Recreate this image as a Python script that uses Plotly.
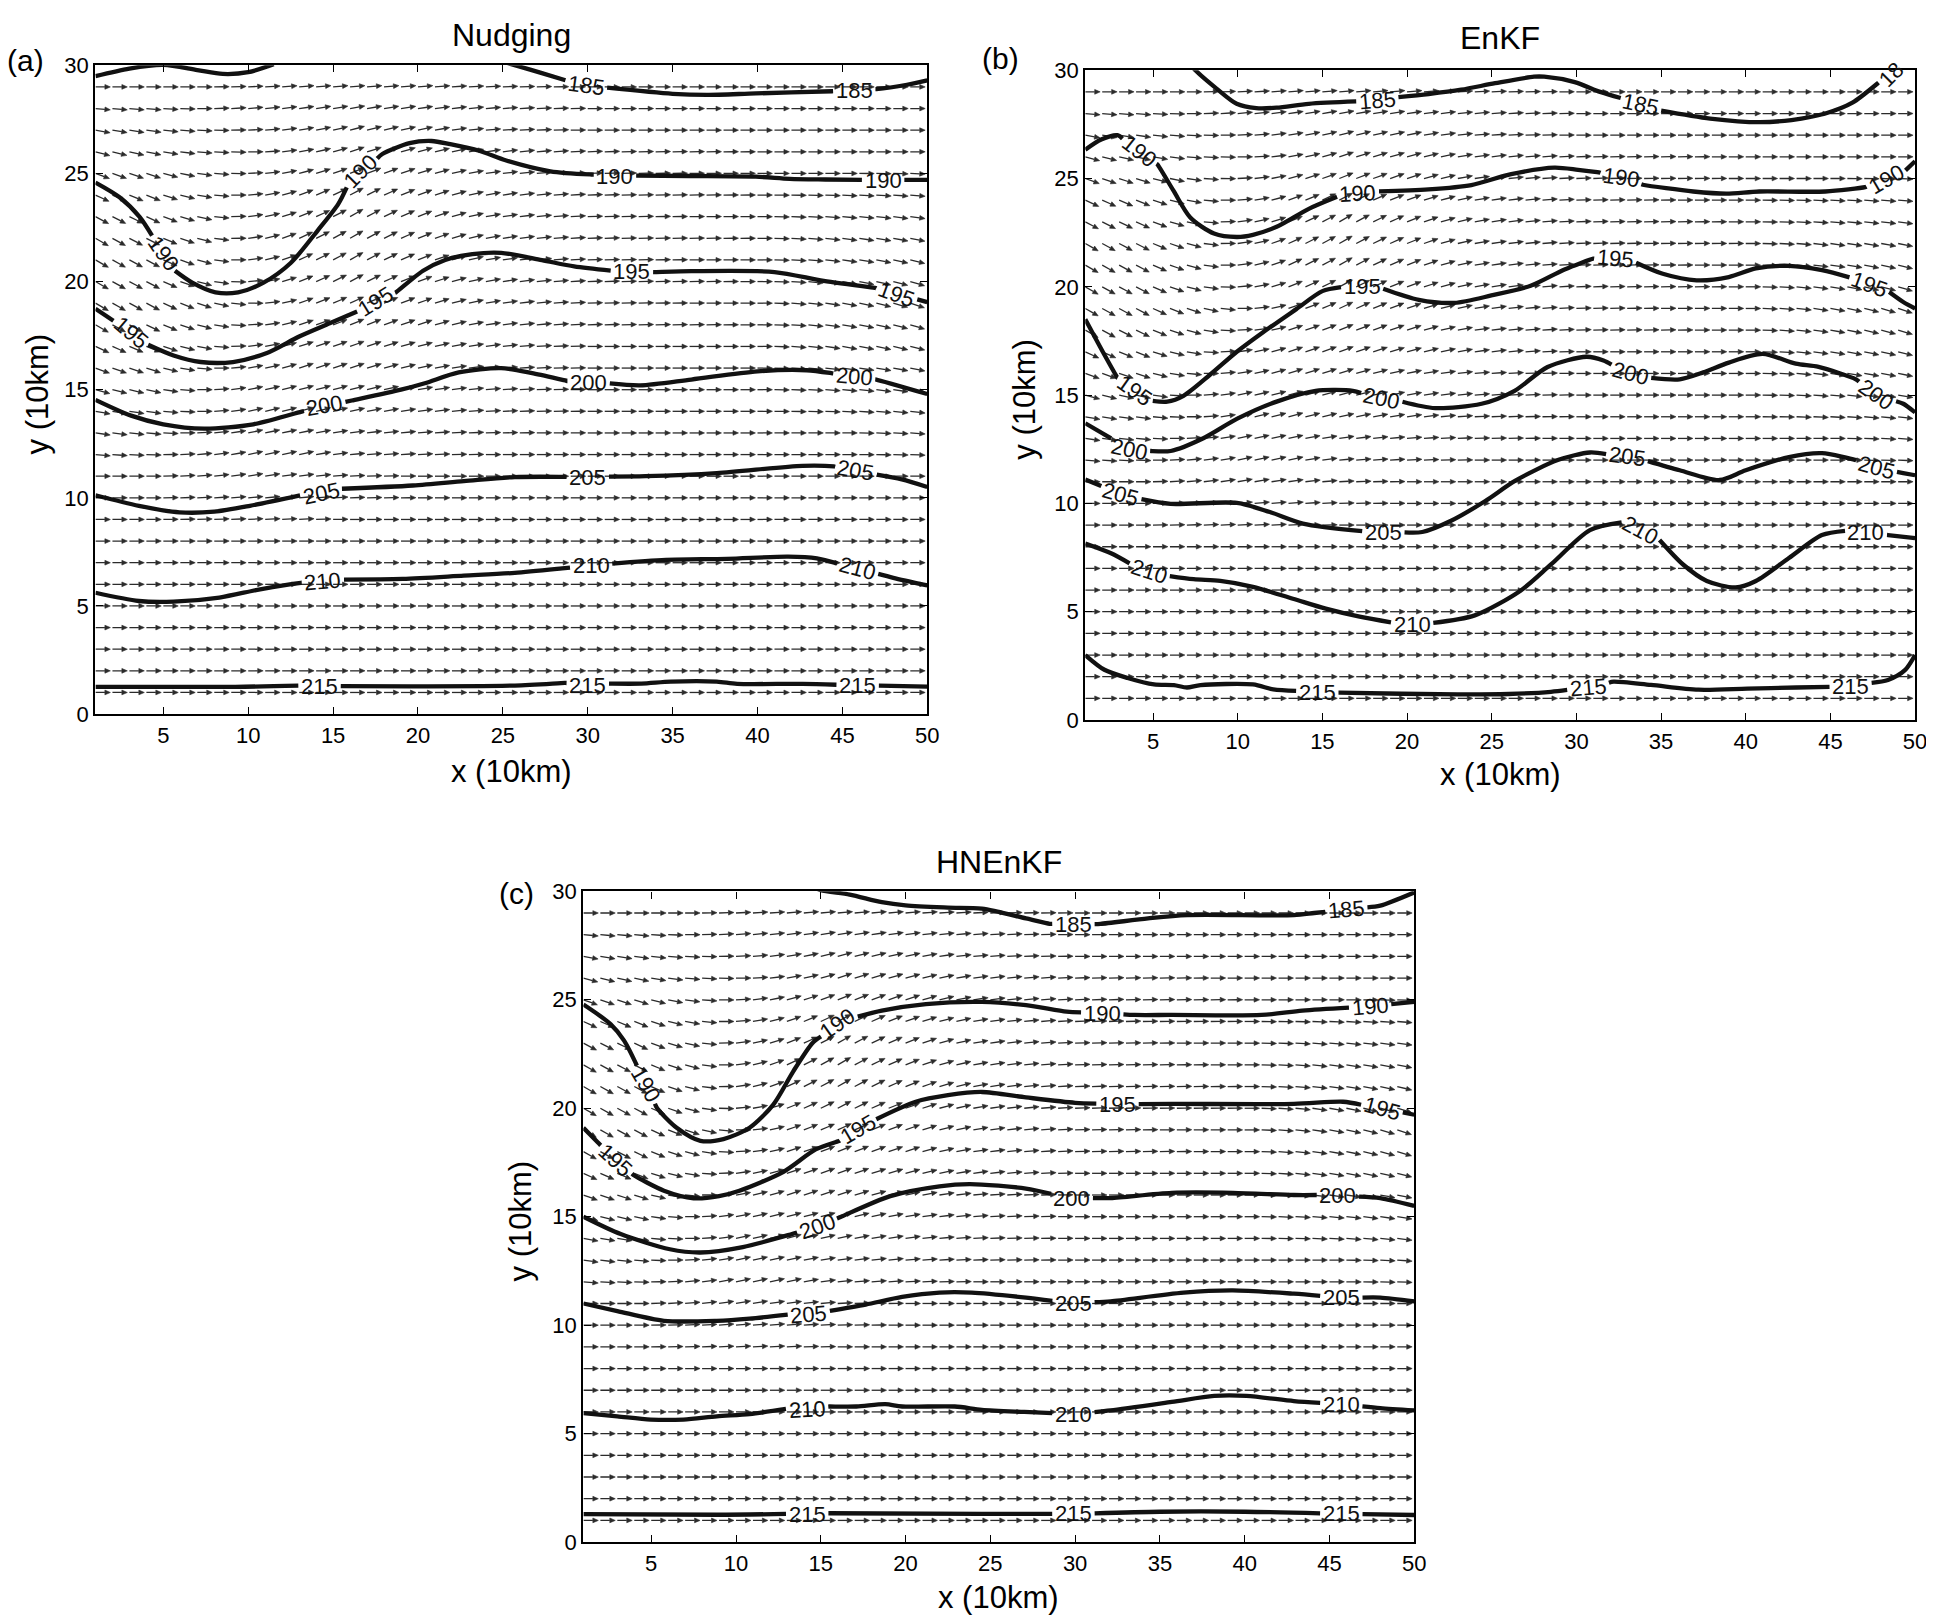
import numpy as np
import plotly.graph_objects as go

W, H = 1934, 1617
FONT = "Liberation Sans"

# ---------------- data: contour lines (grid units), None separates pieces ----------------
# (a) Nudging
A185_X = [1, 3, 5, 7, 8.5, 10, 11.5, None, 25.3, 25.9, 27.2, 28.8, 30.9, 35.0, 37.0, 39.9, 44.4, 47.0, 48.8, 50]
A185_Y = [29.5, 29.85, 30.02, 29.78, 29.6, 29.68, 30.05, None, 30.1, 29.96, 29.66, 29.28, 28.98, 28.68, 28.63, 28.7, 28.8, 28.9, 29.1, 29.3]
A190_X = [1, 2.42, 3.6, 4.37, 5.55, 6.7, 8.07, 9.4, 10.9, 12.5, 14.1, 15.3, 15.9, 17.9, 19.5, 20.8, 21.9, 23.6, 25.2, 27.8, 30.2, 32.7, 36.0, 39.9, 41.9, 44.0, 46.4, 48.6, 50]
A190_Y = [24.58, 23.9, 22.99, 22.08, 20.57, 19.95, 19.5, 19.5, 19.95, 20.86, 22.37, 23.58, 24.5, 25.9, 26.4, 26.5, 26.35, 26.05, 25.6, 25.1, 24.95, 24.9, 24.88, 24.85, 24.75, 24.72, 24.7, 24.7, 24.7]
A195_X = [1, 2.3, 4.0, 5.6, 7.2, 9.1, 11.1, 13.0, 14.8, 16.6, 18.7, 20.3, 21.6, 23.2, 24.9, 27.3, 29.2, 31.6, 33.9, 36.1, 41.0, 43.9, 47.0, 50]
A195_Y = [18.74, 18.06, 17.11, 16.58, 16.28, 16.28, 16.7, 17.46, 18.07, 18.68, 19.5, 20.5, 21.0, 21.27, 21.33, 20.99, 20.7, 20.48, 20.44, 20.48, 20.44, 20.03, 19.7, 19.05]
A200_X = [1, 3.1, 5.0, 7.4, 10.3, 13.2, 16.1, 19.0, 20.4, 22.4, 24.9, 26.8, 28.8, 31.1, 33.1, 36.1, 40.0, 42.9, 44.4, 47.0, 50]
A200_Y = [14.53, 13.8, 13.4, 13.2, 13.4, 14.0, 14.5, 15.0, 15.3, 15.8, 16.0, 15.75, 15.4, 15.3, 15.2, 15.47, 15.85, 15.9, 15.76, 15.47, 14.8]
A205_X = [1, 3.56, 5.95, 8.0, 10.1, 13.1, 15.5, 19.7, 22.7, 25.7, 28.65, 31.3, 33.4, 37.6, 42.65, 44.5, 46.5, 48.5, 50]
A205_Y = [10.12, 9.63, 9.33, 9.36, 9.63, 10.12, 10.42, 10.57, 10.77, 10.96, 10.97, 10.98, 11.0, 11.14, 11.48, 11.45, 11.15, 10.85, 10.5]
A210_X = [1, 3.56, 5.6, 8.3, 10.7, 13.1, 15.5, 19.1, 22.7, 25.7, 28.65, 31.3, 34.6, 38.2, 41.8, 43.5, 45.8, 48.0, 50]
A210_Y = [5.61, 5.23, 5.2, 5.39, 5.77, 6.07, 6.22, 6.25, 6.4, 6.53, 6.75, 6.95, 7.13, 7.18, 7.28, 7.2, 6.75, 6.3, 5.95]
A215_X = [1, 9.24, 12.97, 15.5, 25.7, 28.65, 31.3, 33.15, 34.9, 37.6, 38.8, 42.65, 46.0, 50]
A215_Y = [1.26, 1.26, 1.32, 1.29, 1.32, 1.44, 1.41, 1.41, 1.5, 1.5, 1.4, 1.4, 1.33, 1.27]
A_LBL_X = [29.9, 45.7, 5.0, 16.6, 31.6, 47.4, 3.1, 17.5, 32.6, 48.2, 14.5, 30.05, 45.7, 14.3, 30.0, 45.8, 14.4, 30.2, 45.9, 14.2, 30.0, 45.9]
A_LBL_Y = [29.08, 28.85, 21.3, 25.1, 24.85, 24.68, 17.65, 19.1, 20.45, 19.42, 14.25, 15.33, 15.62, 10.2, 10.95, 11.25, 6.12, 6.85, 6.72, 1.28, 1.3, 1.33]
A_LBL_ANG = [8, 0, 55, -45, 0, 0, 40, -32, 0, 20, -10, 0, 5, -12, 0, 10, -5, 0, 15, 0, 0, 0]
A_LBL_TXT = ["185", "185", "190", "190", "190", "190", "195", "195", "195", "195", "200", "200", "200",
             "205", "205", "205", "210", "210", "210", "215", "215", "215"]

# (b) EnKF
B185_X = [7.1, 7.5, 8.77, 9.94, 11.1, 12.3, 14.2, 17.0, 19.3, 21.27, 23.2, 25.2, 27.5, 28.1, 29.9, 31.4, 32.7, 34.9, 37.9, 40.8, 42.7, 44.7, 46.3, 47.8, 48.9]
B185_Y = [30.35, 30.0, 29.14, 28.45, 28.25, 28.27, 28.45, 28.56, 28.74, 28.9, 29.1, 29.4, 29.7, 29.7, 29.45, 29.0, 28.7, 28.15, 27.77, 27.6, 27.7, 28.0, 28.5, 29.4, 30.1]
B190_X = [1, 1.94, 2.9, 4.2, 5.26, 6.2, 7.2, 8.6, 9.95, 10.9, 12.3, 14.2, 16.0, 18.15, 21.27, 23.8, 26.15, 28.7, 30.1, 31.4, 34.0, 36.9, 38.85, 40.8, 44.7, 47.05, 49.4, 50]
B190_Y = [26.33, 26.8, 27.0, 26.3, 25.65, 24.45, 23.2, 22.46, 22.3, 22.4, 22.77, 23.6, 24.2, 24.4, 24.5, 24.7, 25.2, 25.5, 25.4, 25.27, 24.7, 24.4, 24.3, 24.4, 24.4, 24.6, 25.35, 25.8]
B195_X = [1, 2.13, 2.9, 3.9, 4.87, 5.84, 6.8, 8.38, 9.95, 11.5, 13.46, 15.0, 16.2, 17.3, 18.44, 20.7, 22.8, 24.98, 27.3, 29.3, 31.0, 32.3, 33.4, 35.1, 37.1, 39.0, 40.6, 42.55, 44.5, 46.3, 47.3, 48.4, 49.3, 50]
B195_Y = [18.5, 16.86, 15.8, 15.2, 14.74, 14.7, 14.97, 15.95, 17.0, 17.9, 18.97, 19.8, 20.0, 20.0, 19.95, 19.4, 19.26, 19.6, 20.05, 20.8, 21.3, 21.3, 21.15, 20.6, 20.3, 20.45, 20.85, 20.97, 20.77, 20.4, 20.1, 19.8, 19.3, 19.0]
B200_X = [1, 2.7, 3.6, 4.87, 6.04, 8.0, 9.95, 12.3, 14.6, 16.8, 18.5, 19.7, 21.66, 24.4, 26.35, 28.3, 30.6, 31.6, 33.2, 34.35, 36.1, 37.5, 39.0, 41.0, 42.95, 44.3, 46.5, 47.7, 49.3, 50]
B200_Y = [13.7, 12.92, 12.47, 12.42, 12.42, 13.02, 13.9, 14.7, 15.2, 15.2, 14.82, 14.7, 14.4, 14.6, 15.2, 16.3, 16.77, 16.6, 15.95, 15.8, 15.73, 16.05, 16.5, 16.9, 16.45, 16.3, 15.73, 15.05, 14.6, 14.2]
B205_X = [1, 1.94, 3.1, 4.28, 6.04, 9.95, 11.9, 13.85, 17.56, 18.6, 20.9, 22.6, 24.6, 26.4, 28.9, 30.8, 33.0, 34.1, 36.1, 38.45, 40.0, 42.55, 44.5, 46.5, 47.7, 49.3, 50]
B205_Y = [11.1, 10.8, 10.42, 10.2, 9.98, 10.02, 9.6, 9.07, 8.7, 8.64, 8.68, 9.2, 10.1, 11.05, 12.0, 12.35, 12.17, 11.98, 11.53, 11.08, 11.53, 12.14, 12.32, 12.0, 11.64, 11.4, 11.3]
B210_X = [1, 2.52, 3.7, 4.77, 5.94, 7.4, 8.97, 10.9, 13.26, 15.2, 17.2, 19.1, 20.3, 21.5, 24.0, 26.7, 28.5, 30.8, 32.8, 33.8, 34.9, 36.3, 37.7, 39.4, 40.6, 42.55, 44.5, 46.1, 47.1, 48.4, 50]
B210_Y = [8.15, 7.7, 7.2, 6.86, 6.65, 6.5, 6.42, 6.15, 5.6, 5.14, 4.77, 4.5, 4.42, 4.48, 4.83, 5.97, 7.18, 8.77, 9.15, 8.76, 8.32, 7.18, 6.42, 6.12, 6.42, 7.48, 8.54, 8.77, 8.62, 8.54, 8.4]
B215_X = [1, 2.13, 3.5, 5.06, 6.23, 7.0, 7.8, 10.9, 12.1, 13.65, 14.7, 16.0, 23.0, 26.0, 28.5, 30.7, 32.2, 34.4, 37.2, 40.1, 43.0, 46.2, 48.4, 49.4, 50]
B215_Y = [3.0, 2.32, 1.94, 1.64, 1.61, 1.5, 1.61, 1.64, 1.41, 1.33, 1.28, 1.26, 1.18, 1.2, 1.3, 1.5, 1.77, 1.62, 1.4, 1.45, 1.5, 1.55, 1.85, 2.3, 3.0]
B_LBL_X = [18.25, 33.8, 48.6, 4.2, 17.1, 32.65, 48.3, 3.9, 17.35, 32.3, 47.3, 3.6, 18.5, 33.2, 47.7, 3.1, 18.6, 33.0, 47.7, 4.77, 20.3, 33.8, 47.1, 14.7, 30.7, 46.2]
B_LBL_Y = [28.62, 28.4, 29.8, 26.26, 24.3, 25.05, 24.97, 15.2, 20.0, 21.3, 20.1, 12.5, 14.85, 15.98, 15.05, 10.42, 8.64, 12.17, 11.64, 6.86, 4.42, 8.76, 8.65, 1.28, 1.5, 1.55]
B_LBL_ANG = [-5, 12, -45, 38, -3, 8, -30, 35, 0, 5, 20, 12, 12, 15, 35, 15, 0, 8, 15, 18, 0, 28, 0, 0, -5, 0]
B_LBL_TXT = ["185", "185", "18", "190", "190", "190", "190", "195", "195", "195", "195", "200", "200", "200", "200",
             "205", "205", "205", "205", "210", "210", "210", "210", "215", "215", "215"]

# (c) HNEnKF
C185_X = [14.6, 15.0, 16.7, 18.6, 20.0, 22.5, 24.5, 27.1, 28.5, 29.9, 31.5, 34.3, 36.6, 42.9, 44.1, 46.0, 48.0, 50]
C185_Y = [30.2, 30.05, 29.85, 29.5, 29.35, 29.25, 29.2, 28.75, 28.5, 28.46, 28.5, 28.75, 28.9, 28.9, 29.0, 29.14, 29.34, 29.95]
C190_X = [1, 2.6, 3.4, 4.2, 4.67, 5.35, 6.5, 7.9, 9.26, 10.8, 12.2, 13.36, 14.5, 16.0, 17.07, 18.6, 21.2, 24.5, 27.1, 29.5, 31.6, 33.5, 35.7, 41.0, 43.4, 47.4, 50]
C190_Y = [24.78, 23.88, 23.12, 21.9, 21.08, 20.0, 19.1, 18.5, 18.58, 19.1, 20.17, 21.68, 23.0, 23.9, 24.2, 24.5, 24.8, 24.9, 24.75, 24.45, 24.38, 24.3, 24.3, 24.3, 24.5, 24.7, 24.9]
C195_X = [1, 1.84, 2.9, 4.0, 5.75, 7.5, 9.0, 10.2, 12.8, 14.7, 16.1, 17.2, 18.0, 20.6, 22.5, 24.5, 27.1, 30.0, 32.5, 35.7, 42.9, 45.8, 48.1, 50]
C195_Y = [19.1, 18.43, 17.6, 16.9, 16.2, 15.85, 15.95, 16.2, 17.07, 18.1, 18.5, 19.0, 19.4, 20.3, 20.6, 20.75, 20.5, 20.25, 20.18, 20.2, 20.2, 20.3, 20.0, 19.7]
C200_X = [1, 3.2, 6.1, 7.9, 10.4, 13.3, 14.8, 16.2, 19.1, 22.0, 23.8, 27.1, 29.8, 32.1, 35.7, 39.3, 42.9, 45.5, 48.0, 50]
C200_Y = [15.0, 14.2, 13.5, 13.35, 13.6, 14.2, 14.55, 15.0, 15.95, 16.4, 16.5, 16.3, 15.86, 15.86, 16.1, 16.1, 16.0, 16.0, 15.86, 15.5]
C205_X = [1, 3.0, 5.75, 8.87, 10.8, 13.2, 14.3, 15.5, 17.65, 19.8, 22.0, 23.9, 27.1, 29.9, 32.1, 36.4, 39.3, 42.9, 45.7, 48.0, 50]
C205_Y = [11.0, 10.65, 10.2, 10.2, 10.3, 10.5, 10.5, 10.65, 10.95, 11.3, 11.5, 11.5, 11.27, 11.0, 11.1, 11.5, 11.6, 11.45, 11.27, 11.27, 11.1]
C210_X = [1, 3.0, 4.97, 6.9, 8.87, 10.8, 13.07, 15.5, 17.1, 18.8, 19.8, 22.9, 24.5, 27.0, 29.9, 32.1, 35.7, 38.2, 40.1, 42.9, 45.7, 48.0, 50]
C210_Y = [5.95, 5.8, 5.65, 5.65, 5.8, 5.9, 6.15, 6.25, 6.25, 6.36, 6.25, 6.25, 6.1, 6.0, 5.9, 6.07, 6.46, 6.74, 6.74, 6.5, 6.35, 6.18, 6.07]
C215_X = [1, 8.87, 13.0, 15.3, 24.5, 29.9, 35.0, 40.0, 45.7, 50]
C215_Y = [1.29, 1.26, 1.3, 1.33, 1.3, 1.3, 1.4, 1.4, 1.3, 1.25]
C_LBL_X = [29.9, 46.0, 4.67, 16.0, 31.6, 47.4, 2.9, 17.2, 32.5, 48.1, 14.8, 29.8, 45.5, 14.3, 29.9, 45.7, 14.2, 29.9, 45.7, 14.2, 29.9, 45.7]
C_LBL_Y = [28.46, 29.14, 21.08, 23.9, 24.38, 24.7, 17.6, 19.0, 20.18, 20.0, 14.55, 15.86, 16.0, 10.5, 11.0, 11.27, 6.1, 5.9, 6.35, 1.28, 1.3, 1.3]
C_LBL_ANG = [0, -5, 60, -35, 0, -5, 42, -30, 0, 15, -20, 0, 0, -5, 0, 0, -3, 0, 0, 0, 0, 0]
C_LBL_TXT = ["185", "185", "190", "190", "190", "190", "195", "195", "195", "195", "200", "200", "200",
             "205", "205", "205", "210", "210", "210", "215", "215", "215"]

# ---------------- data: wind direction (screen angle, degrees, + = pointing up-right) ----------------
WIND_X = [1, 4, 7, 10, 13, 16, 20, 24, 30, 40, 45, 50]
WIND_Y = list(range(1, 30))
WIND_ANG = [
    [0] * 12, [0] * 12, [0] * 12, [0] * 12, [0] * 12, [0] * 12, [0] * 12, [0] * 12,     # y = 1..8
    [0, 0, 2, 3, 3, 0, 0, 0, 0, 0, 0, 0],              # 9
    [0, 0, 3, 5, 5, 2, 0, 0, 0, 0, 0, 0],              # 10
    [0, 0, 5, 10, 8, 3, 0, 0, 0, 0, 0, 0],             # 11
    [-5, -2, 5, 12, 12, 5, 3, 0, 0, 0, 0, -3],         # 12
    [-8, -5, 3, 12, 12, 8, 5, 2, 0, 0, 0, -5],         # 13
    [-10, -8, 0, 12, 15, 12, 8, 3, 0, 0, -3, -8],      # 14
    [-15, -12, 0, 12, 15, 15, 10, 5, 0, 0, -5, -10],   # 15
    [-20, -18, -5, 10, 18, 18, 12, 5, 0, 0, -8, -12],  # 16
    [-25, -22, -10, 8, 18, 20, 15, 8, 0, 0, -10, -15], # 17
    [-30, -26, -15, 3, 18, 22, 18, 8, 2, 0, -10, -18], # 18
    [-30, -28, -18, 0, 20, 25, 20, 10, 2, 0, -10, -20],# 19
    [-30, -28, -15, 5, 22, 28, 20, 10, 2, 0, -10, -18],# 20
    [-30, -28, -15, 8, 25, 30, 22, 10, 2, 0, -8, -15], # 21
    [-30, -27, -15, 8, 25, 30, 22, 10, 2, 0, -8, -12], # 22
    [-28, -25, -12, 8, 22, 30, 22, 10, 2, 0, -5, -8],  # 23
    [-25, -22, -10, 5, 20, 28, 20, 10, 2, 0, -3, -5],  # 24
    [-20, -18, -8, 3, 15, 22, 18, 8, 2, 0, 0, -3],     # 25
    [-15, -12, -5, 0, 10, 18, 15, 8, 2, 0, 0, 0],      # 26
    [-10, -8, -3, 3, 10, 15, 12, 5, 0, 0, 0, 0],       # 27
    [-5, -5, 0, 5, 8, 10, 8, 5, 0, 0, 0, 0],           # 28
    [0, 0, 0, 3, 5, 5, 5, 3, 0, 0, 0, 0],              # 29
]
GRID_X = list(range(1, 51))

X_TICKS = [5, 10, 15, 20, 25, 30, 35, 40, 45, 50]
Y_TICKS = [0, 5, 10, 15, 20, 25, 30]
TITLES = ["Nudging", "EnKF", "HNEnKF"]
LETTERS = ["(a)", "(b)", "(c)"]

# ---------------- layout geometry (pixels) ----------------
PANELS_PX = [  # left, right, top, bottom
    (88, 925, 46, 705),
    (1084, 1919, 51, 711),
    (579, 1415, 885, 1546),
]
LBL_FS = 22


def split_pieces(xs, ys):
    pieces, cx, cy = [], [], []
    for x, y in zip(xs, ys):
        if x is None:
            if cx:
                pieces.append((cx, cy))
            cx, cy = [], []
        else:
            cx.append(x)
            cy.append(y)
    if cx:
        pieces.append((cx, cy))
    return pieces


def cut_piece(px, py, labels, sx, sy):
    P = np.column_stack([np.array(px, float) * sx, np.array(py, float) * sy])
    d = np.diff(P, axis=0)
    seg = np.hypot(d[:, 0], d[:, 1])
    s = np.concatenate([[0], np.cumsum(seg)])
    ivals = []
    for (lx, ly, txt) in labels:
        q = np.array([lx * sx, ly * sy])
        best_d, best_s = 1e9, 0
        for i in range(len(seg)):
            if seg[i] == 0:
                continue
            t = np.clip(np.dot(q - P[i], d[i]) / seg[i] ** 2, 0, 1)
            dist = np.hypot(*(P[i] + t * d[i] - q))
            if dist < best_d:
                best_d, best_s = dist, s[i] + t * seg[i]
        if best_d < 12:
            g = 0.5 * len(txt) * 0.556 * LBL_FS + 3
            ivals.append((best_s - g, best_s + g))
    samples = sorted(set(list(s) + [v for a, b in ivals for v in (a, b) if 0 < v < s[-1]]))

    def inside(v):
        return any(a + 1e-9 < v < b - 1e-9 for a, b in ivals)

    out, cur, last = [], [], None
    for v in samples:
        if inside(v):
            continue
        if cur and inside(0.5 * (last + v)):
            out.append(cur)
            cur = []
        cur.append(v)
        last = v
    if cur:
        out.append(cur)
    xs, ys = [], []
    for c in out:
        if len(c) < 2:
            continue
        xs += list(np.interp(c, s, px)) + [None]
        ys += list(np.interp(c, s, py)) + [None]
    return xs, ys


def arrows(sx, sy):
    """Shafts (lines) and filled heads (triangles), in data units."""
    lx, ly, hx, hy = [], [], [], []
    L, HL, HW = 15.0, 5.5, 2.4
    for j, yv in enumerate(WIND_Y):
        for xv in GRID_X:
            a = np.radians(np.interp(xv, WIND_X, WIND_ANG[j]))
            ca, sa = np.cos(a), np.sin(a)
            tx, ty = xv + L * ca / sx, yv + L * sa / sy
            bx, by = xv + (L - HL) * ca / sx, yv + (L - HL) * sa / sy
            lx += [xv, bx, None]
            ly += [yv, by, None]
            nx, ny = -sa, ca
            hx += [tx, bx + HW * nx / sx, bx - HW * nx / sx, tx, None]
            hy += [ty, by + HW * ny / sy, by - HW * ny / sy, ty, None]
    return lx, ly, hx, hy


panel_lines = [
    [(A185_X, A185_Y), (A190_X, A190_Y), (A195_X, A195_Y), (A200_X, A200_Y), (A205_X, A205_Y), (A210_X, A210_Y), (A215_X, A215_Y)],
    [(B185_X, B185_Y), (B190_X, B190_Y), (B195_X, B195_Y), (B200_X, B200_Y), (B205_X, B205_Y), (B210_X, B210_Y), (B215_X, B215_Y)],
    [(C185_X, C185_Y), (C190_X, C190_Y), (C195_X, C195_Y), (C200_X, C200_Y), (C205_X, C205_Y), (C210_X, C210_Y), (C215_X, C215_Y)],
]
panel_labels = [
    (A_LBL_X, A_LBL_Y, A_LBL_ANG, A_LBL_TXT),
    (B_LBL_X, B_LBL_Y, B_LBL_ANG, B_LBL_TXT),
    (C_LBL_X, C_LBL_Y, C_LBL_ANG, C_LBL_TXT),
]

fig = go.Figure()
annotations = []
layout = {}


def paper(xpx, ypx):
    return xpx / W, 1 - ypx / H


ARROW_COL = "#2b2b2b"

for k in range(3):
    l, r, t, b = PANELS_PX[k]
    sx = (r - l) / 49.0
    sy = (b - t) / 30.0
    ax = "" if k == 0 else str(k + 1)
    xref, yref = "x" + ax, "y" + ax

    sh_x, sh_y, hd_x, hd_y = arrows(sx, sy)
    fig.add_trace(go.Scatter(x=sh_x, y=sh_y, mode="lines", xaxis=xref, yaxis=yref,
                             line=dict(color=ARROW_COL, width=1.3), hoverinfo="skip", showlegend=False))
    fig.add_trace(go.Scatter(x=hd_x, y=hd_y, mode="lines", xaxis=xref, yaxis=yref, fill="toself",
                             fillcolor=ARROW_COL, line=dict(color=ARROW_COL, width=0.6),
                             hoverinfo="skip", showlegend=False))

    lx, ly, lang, ltxt = panel_labels[k]
    lbls = list(zip(lx, ly, ltxt))
    for (cx, cy) in panel_lines[k]:
        xs_all, ys_all = [], []
        for (px, py) in split_pieces(cx, cy):
            xs, ys = cut_piece(px, py, lbls, sx, sy)
            xs_all += xs
            ys_all += ys
        fig.add_trace(go.Scatter(x=xs_all, y=ys_all, mode="lines", xaxis=xref, yaxis=yref,
                                 line=dict(color="#111111", width=4.3, shape="spline", smoothing=0.8),
                                 connectgaps=False, hoverinfo="skip", showlegend=False))
    for x0, y0, a0, t0 in zip(lx, ly, lang, ltxt):
        annotations.append(dict(x=x0, y=y0, xref=xref, yref=yref, text=t0, textangle=a0,
                                showarrow=False, xanchor="center", yanchor="middle",
                                font=dict(family=FONT, size=LBL_FS, color="#111111")))

    axis_common = dict(showgrid=False, zeroline=False, showline=True, linecolor="black", linewidth=2.4,
                       mirror="ticks", ticks="inside", ticklen=7, tickwidth=1.4, tickcolor="black",
                       tickfont=dict(family=FONT, size=22, color="black"))
    layout["xaxis" + ax] = dict(domain=[l / W, r / W], range=[1, 50], tickvals=X_TICKS,
                                anchor=yref, **axis_common)
    layout["yaxis" + ax] = dict(domain=[1 - b / H, 1 - t / H], range=[0, 30], tickvals=Y_TICKS,
                                anchor=xref, **axis_common)

    cxp = (l + r) / 2
    # title
    ty_px = [15, 18, 855][k]
    px_, py_ = paper(cxp, ty_px)
    annotations.append(dict(x=px_, y=py_, xref="paper", yref="paper", text=TITLES[k], showarrow=False,
                            xanchor="center", yanchor="middle", font=dict(family=FONT, size=32, color="black")))
    # x title
    xt_px = [763, 766, 1602][k]
    px_, py_ = paper(cxp, xt_px)
    annotations.append(dict(x=px_, y=py_, xref="paper", yref="paper", text="x (10km)", showarrow=False,
                            xanchor="center", yanchor="middle", font=dict(family=FONT, size=31, color="black")))
    # y title
    yx_px = [30, 1022, 516][k]
    px_, py_ = paper(yx_px, (t + b) / 2 + 4)
    annotations.append(dict(x=px_, y=py_, xref="paper", yref="paper", text="y (10km)", showarrow=False,
                            textangle=-90, xanchor="center", yanchor="middle",
                            font=dict(family=FONT, size=31, color="black")))
    # panel letter
    lp = [(18, 41), (999, 39), (512, 887)][k]
    px_, py_ = paper(*lp)
    annotations.append(dict(x=px_, y=py_, xref="paper", yref="paper", text=LETTERS[k], showarrow=False,
                            xanchor="center", yanchor="middle", font=dict(family=FONT, size=30, color="black")))

fig.update_layout(width=W, height=H, margin=dict(l=0, r=0, t=0, b=0),
                  paper_bgcolor="white", plot_bgcolor="white", showlegend=False,
                  annotations=annotations, **layout)

fig.write_html("out.html")
